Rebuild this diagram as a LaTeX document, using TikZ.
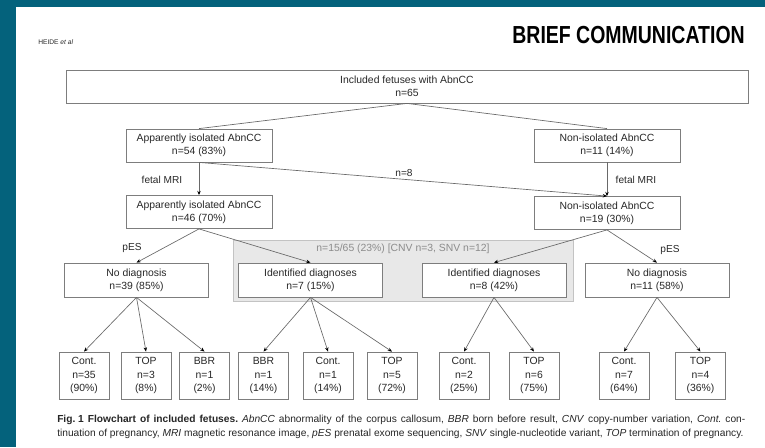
\documentclass[tikz,border=0pt]{standalone}
\usepackage{fontspec}
\setmainfont{Liberation Sans}
\usepackage{graphicx}
\usepackage{tikz}
\usetikzlibrary{arrows.meta}
\frenchspacing
\definecolor{framecol}{RGB}{4,98,124}
\definecolor{linegray}{RGB}{105,105,105}
\definecolor{boxgray}{RGB}{125,125,125}
\definecolor{txtgray}{RGB}{40,40,40}
\definecolor{regionfill}{RGB}{232,232,232}
\definecolor{regionline}{RGB}{195,195,195}
\definecolor{regiontext}{RGB}{140,140,140}
\tikzstyle{arrow}=[-{Stealth[length=3.2pt,width=2.6pt,color=black]},line width=0.5pt,draw=linegray]
\tikzstyle{link}=[line width=0.5pt,draw=linegray]
\tikzstyle{box}=[rectangle,draw=boxgray,fill=white,line width=0.6pt,inner sep=0pt,
                  minimum width=109.5pt,minimum height=24.75pt,align=center,text=txtgray,
                  font=\fontsize{7.8}{9.6}\selectfont]
\tikzstyle{diagbox}=[box,minimum width=108pt,minimum height=25.5pt]
\tikzstyle{leafbox}=[box,minimum width=37.5pt,minimum height=35.25pt,font=\fontsize{7.8}{10.2}\selectfont]
\tikzstyle{edgelabel}=[inner sep=0pt,text=txtgray,font=\fontsize{7.6}{9}\selectfont]
\tikzstyle{region}=[rectangle,draw=regionline,fill=regionfill,line width=0.6pt,
                  minimum width=255pt,minimum height=45.75pt,inner sep=0pt]
\tikzstyle{captionline}=[anchor=west,inner sep=0pt,text=black!85,font=\fontsize{7.65}{9}\selectfont]

\begin{document}
\begin{tikzpicture}[x=0.75pt,y=-0.75pt]
  \useasboundingbox (0,0) rectangle (765,447);
  \fill[framecol] (0,0) rectangle (765,7);
  \fill[framecol] (0,0) rectangle (16,447);

  \node[anchor=west,inner sep=0pt,text=txtgray,font=\fontsize{5}{6}\selectfont] (author) at (38,42) {HEIDE \textit{et al}};
  \node[anchor=east,inner sep=0pt] (journal) at (745,35) {\scalebox{0.79}[1]{\fontsize{18.5}{20}\selectfont\bfseries BRIEF COMMUNICATION}};

  \node[region] (found) at (403,270.5) {};
  \node[inner sep=0pt,text=regiontext,font=\fontsize{7.8}{9}\selectfont] (foundlbl) at (403,249) {n=15/65 (23\%) [CNV n=3, SNV n=12]};

  \node[box,minimum width=511.5pt] (incl) at (407,86.5) {Included fetuses with AbnCC\\n=65};
  \node[box] (isoa) at (199,145.5) {Apparently isolated AbnCC\\n=54 (83\%)};
  \node[box] (nona) at (607,145.5) {Non-isolated AbnCC\\n=11 (14\%)};
  \node[box] (isob) at (199,212) {Apparently isolated AbnCC\\n=46 (70\%)};
  \node[box] (nonb) at (607,213) {Non-isolated AbnCC\\n=19 (30\%)};

  \node[diagbox] (nodiaga) at (136.5,280) {No diagnosis\\n=39 (85\%)};
  \node[diagbox] (identa) at (310.5,280) {Identified diagnoses\\n=7 (15\%)};
  \node[diagbox] (identb) at (494,280) {Identified diagnoses\\n=8 (42\%)};
  \node[diagbox] (nodiagb) at (657,280) {No diagnosis\\n=11 (58\%)};

  \node[leafbox] (cont35) at (84,375.5) {Cont.\\n=35\\(90\%)};
  \node[leafbox] (top3) at (146,375.5) {TOP\\n=3\\(8\%)};
  \node[leafbox] (bbr1) at (204.5,375.5) {BBR\\n=1\\(2\%)};
  \node[leafbox] (bbr1b) at (263.5,375.5) {BBR\\n=1\\(14\%)};
  \node[leafbox] (cont1) at (328,375.5) {Cont.\\n=1\\(14\%)};
  \node[leafbox] (top5) at (392,375.5) {TOP\\n=5\\(72\%)};
  \node[leafbox] (cont2) at (464,375.5) {Cont.\\n=2\\(25\%)};
  \node[leafbox] (top6) at (534,375.5) {TOP\\n=6\\(75\%)};
  \node[leafbox] (cont7) at (624,375.5) {Cont.\\n=7\\(64\%)};
  \node[leafbox] (top4) at (700.5,375.5) {TOP\\n=4\\(36\%)};

  \draw[link] (incl.south)--(isoa.north);
  \draw[link] (incl.south)--(nona.north);
  \draw[arrow] (isoa.south)--(isob.north);
  \draw[arrow] (isoa.south)--(nonb.north);
  \draw[arrow] (nona.south)--(nonb.north);
  \draw[arrow] (isob.south)--(nodiaga.north);
  \draw[arrow] (isob.south)--(identa.north);
  \draw[arrow] (nonb.south)--(identb.north);
  \draw[arrow] (nonb.south)--(nodiagb.north);
  \draw[arrow] (nodiaga.south)--(cont35.north);
  \draw[arrow] (nodiaga.south)--(top3.north);
  \draw[arrow] (nodiaga.south)--(bbr1.north);
  \draw[arrow] (identa.south)--(bbr1b.north);
  \draw[arrow] (identa.south)--(cont1.north);
  \draw[arrow] (identa.south)--(top5.north);
  \draw[arrow] (identb.south)--(cont2.north);
  \draw[arrow] (identb.south)--(top6.north);
  \draw[arrow] (nodiagb.south)--(cont7.north);
  \draw[arrow] (nodiagb.south)--(top4.north);

  \node[edgelabel] (mrileft) at (162,180) {fetal MRI};
  \node[edgelabel] (mriright) at (636,180) {fetal MRI};
  \node[edgelabel] (moved) at (404,173) {n=8};
  \node[edgelabel] (pesleft) at (132,248) {pES};
  \node[edgelabel] (pesright) at (670,250) {pES};

  \node[captionline] (cap1) at (57,420) {\makebox[516pt][s]{\textbf{\mbox{Fig. 1} Flowchart of included fetuses.} \textit{AbnCC} abnormality of the corpus callosum, \textit{BBR} born before result, \textit{CNV} copy-number variation, \textit{Cont.} con-}};
  \node[captionline] (cap2) at (57,434) {tinuation of pregnancy, \textit{MRI} magnetic resonance image, \textit{pES} prenatal exome sequencing, \textit{SNV} single-nucleotide variant, \textit{TOP} termination of pregnancy.};
\end{tikzpicture}
\end{document}
